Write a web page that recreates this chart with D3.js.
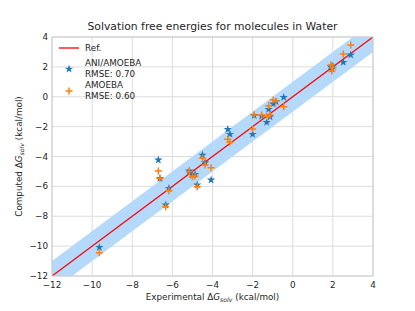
<!DOCTYPE html>
<html lang="en">
<head>
<meta charset="UTF-8">
<script src="https://cdn.jsdelivr.net/npm/d3@7"></script>
<style>
  body { margin: 0; background: #fff; }
  text { font-family: "DejaVu Sans", sans-serif; fill: #262626; }
</style>
</head>
<body>
<script>
// experimental vs computed solvation free energies (kcal/mol)
var experimental = [-9.64, -6.7, -6.62, -6.17, -6.33, -5.16, -5.0, -4.87, -4.5, -4.37, -4.07, -4.76,
  -3.24, -3.13, -2.0, -1.92, -1.55, -1.3, -1.13, -1.2, -0.97, -0.83, -0.45, 1.9, 1.95, 2.0, 2.52, 2.89];
var aniAmoeba = [-10.08, -4.23, -5.46, -6.13, -7.24, -4.97, -5.25, -5.19, -3.9, -4.41, -5.57, -5.9,
  -2.18, -2.51, -2.51, -1.25, -1.3, -1.71, -1.35, -0.84, -0.48, -0.33, -0.04, 2.0, 1.85, 2.05, 2.31, 2.8];
var amoeba = [-10.44, -4.97, -5.46, -6.29, -7.36, -5.0, -5.35, -5.3, -4.12, -4.57, -4.75, -6.02,
  -2.85, -3.05, -2.16, -1.22, -1.22, -1.33, -1.22, -0.6, -0.22, -0.3, -0.67, 2.13, 1.72, 1.95, 2.86, 3.46];
var ticks = [-12, -10, -8, -6, -4, -2, 0, 2, 4];
var legendLabels = ["Ref.", "ANI/AMOEBA", "RMSE: 0.70", "AMOEBA", "RMSE: 0.60"];

var W = 415, H = 311;
var pLeft = 52, pRight = 373, pTop = 37, pBottom = 276;

var svg = d3.select("body").append("svg")
    .attr("width", W)
    .attr("height", H);

var x = d3.scaleLinear().domain([-12, 4]).range([pLeft, pRight]);
var y = d3.scaleLinear().domain([-12, 4]).range([pBottom, pTop]);

// grid
svg.append("g").selectAll("line").data(ticks).enter().append("line")
    .attr("x1", function(d){ return x(d); }).attr("x2", function(d){ return x(d); })
    .attr("y1", pTop).attr("y2", pBottom)
    .style("stroke", "#dcdcdc").style("stroke-width", 1);
svg.append("g").selectAll("line").data(ticks).enter().append("line")
    .attr("y1", function(d){ return y(d); }).attr("y2", function(d){ return y(d); })
    .attr("x1", pLeft).attr("x2", pRight)
    .style("stroke", "#dcdcdc").style("stroke-width", 1);

// +/- 1 kcal/mol band
var band = d3.area()
    .x(function(d){ return x(d); })
    .y0(function(d){ return y(d - 1); })
    .y1(function(d){ return y(d + 1); });
svg.append("clipPath").attr("id", "clip").append("rect")
    .attr("x", pLeft).attr("y", pTop).attr("width", pRight - pLeft).attr("height", pBottom - pTop);
var plot = svg.append("g").attr("clip-path", "url(#clip)");
plot.append("path").datum([-12, 4])
    .attr("d", band)
    .style("fill", "#b5d9fa");

// reference line
plot.append("line")
    .attr("x1", x(-12)).attr("y1", y(-12)).attr("x2", x(4)).attr("y2", y(4))
    .style("stroke", "#ff0000").style("stroke-width", 1.3);

// markers
var star = d3.symbol().type(d3.symbolStar).size(22);
plot.selectAll(".ani").data(experimental).enter().append("path")
    .attr("class", "ani")
    .attr("d", star)
    .attr("transform", function(d, i){ return "translate(" + x(d) + "," + y(aniAmoeba[i]) + ")"; })
    .style("fill", "#1f77b4");

var plus = "M-3.5,0H3.5M0,-3.5V3.5";
plot.selectAll(".amoeba").data(experimental).enter().append("path")
    .attr("class", "amoeba")
    .attr("d", plus)
    .attr("transform", function(d, i){ return "translate(" + x(d) + "," + y(amoeba[i]) + ")"; })
    .style("stroke", "#ff7f0e").style("stroke-width", 1.5).style("fill", "none");

// frame
svg.append("rect")
    .attr("x", pLeft).attr("y", pTop).attr("width", pRight - pLeft).attr("height", pBottom - pTop)
    .style("fill", "none").style("stroke", "#cccccc").style("stroke-width", 1);

// tick labels
function fmt(d){ return d < 0 ? "\u2212" + Math.abs(d) : String(d); }
svg.append("g").selectAll("text").data(ticks).enter().append("text")
    .attr("x", function(d){ return x(d); }).attr("y", pBottom + 12)
    .attr("text-anchor", "middle").style("font-size", "8.8px")
    .text(fmt);
svg.append("g").selectAll("text").data(ticks).enter().append("text")
    .attr("x", pLeft - 4).attr("y", function(d){ return y(d) + 3; })
    .attr("text-anchor", "end").style("font-size", "8.8px")
    .text(fmt);

// title and labels
svg.append("text").attr("x", (pLeft + pRight) / 2).attr("y", 30)
    .attr("text-anchor", "middle").style("font-size", "10.8px")
    .text("Solvation free energies for molecules in Water");

var xl = svg.append("text").attr("x", (pLeft + pRight) / 2).attr("y", 300)
    .attr("text-anchor", "middle").style("font-size", "8.8px");
xl.append("tspan").text("Experimental \u0394");
xl.append("tspan").style("font-style", "italic").text("G");
xl.append("tspan").style("font-style", "italic").style("font-size", "6.2px").attr("dy", 2).text("solv");
xl.append("tspan").attr("dy", -2).text(" (kcal/mol)");

var yl = svg.append("text")
    .attr("transform", "translate(22," + (pTop + pBottom) / 2 + ") rotate(-90)")
    .attr("text-anchor", "middle").style("font-size", "8.8px");
yl.append("tspan").text("Computed \u0394");
yl.append("tspan").style("font-style", "italic").text("G");
yl.append("tspan").style("font-style", "italic").style("font-size", "6.2px").attr("dy", 2).text("solv");
yl.append("tspan").attr("dy", -2).text(" (kcal/mol)");

// legend
var lg = svg.append("g");
lg.append("line").attr("x1", 59).attr("x2", 79).attr("y1", 48).attr("y2", 48)
    .style("stroke", "#ff0000").style("stroke-width", 1.3);
lg.append("path").attr("d", star).attr("transform", "translate(69,69)").style("fill", "#1f77b4");
lg.append("path").attr("d", plus).attr("transform", "translate(69,91)")
    .style("stroke", "#ff7f0e").style("stroke-width", 1.5).style("fill", "none");
var ly = [51, 66, 77, 88, 99];
lg.selectAll("text").data(legendLabels).enter().append("text")
    .attr("x", 85).attr("y", function(d, i){ return ly[i]; })
    .style("font-size", "8.8px")
    .text(function(d){ return d; });
</script>
</body>
</html>
